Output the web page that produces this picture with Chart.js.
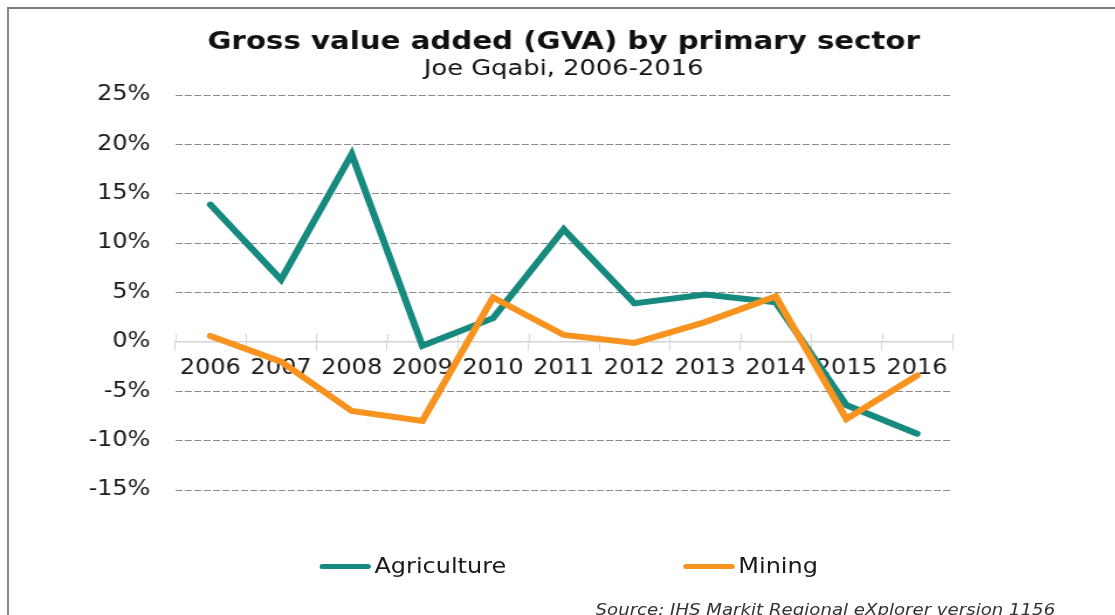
<!DOCTYPE html>
<html>
<head>
<meta charset="utf-8">
<script src="https://cdn.jsdelivr.net/npm/chart.js@4/dist/chart.umd.min.js"></script>
<style>
  html, body { margin: 0; padding: 0; background: #fff; overflow: hidden; }
  body { width: 1115px; height: 615px; position: relative; font-family: "DejaVu Sans", Verdana, sans-serif; }
  .frame { position: absolute; left: 7px; top: 7px; right: -10px; bottom: -10px; border-top: 2px solid #7d7d7d; border-left: 2px solid #8a8a8a; }
  /* the whole panel is drawn a little wide, like the exported figure */
  .stage { position: absolute; left: 0; top: 0; width: 953px; height: 615px; transform: scaleX(1.17); transform-origin: 0 0; }
  .stage canvas { position: absolute; left: 0; top: 0; }
  .legend-item { position: absolute; top: 553px; display: flex; align-items: center; font-size: 20.5px; color: #1a1a1a; line-height: 26px; }
  .legend-item .swatch { width: 44px; height: 5px; border-radius: 3px; margin-right: 3px; }
  .source { position: absolute; left: 509px; top: 603px; font-size: 15.5px; font-style: italic; color: #333; white-space: nowrap; line-height: 1; }
</style>
</head>
<body>
<div class="frame"></div>
<div class="stage">
  <canvas id="gva-chart" width="953" height="615"></canvas>
  <div id="legend"></div>
  <div class="source">Source: IHS Markit Regional eXplorer version 1156</div>
</div>
<script>
// ---- Data ----
const years = ['2006', '2007', '2008', '2009', '2010', '2011', '2012', '2013', '2014', '2015', '2016'];
const agriculture = [13.9, 6.3, 19.0, -0.4, 2.4, 11.4, 3.9, 4.8, 4.0, -6.4, -9.3];
const mining = [0.6, -2.0, -7.0, -8.0, 4.5, 0.7, -0.1, 2.0, 4.6, -7.8, -3.4];
const seriesNames = ['Agriculture', 'Mining'];
const seriesColors = ['#168a7e', '#f7931e'];
const yMin = -15, yMax = 25, yStep = 5;

const AXIS_GREY = '#d4d4d4';
const TEXT = '#1a1a1a';

// tick marks on the zero axis also poke up into the plot
const upTicks = {
  id: 'upTicks',
  beforeDatasetsDraw(chart) {
    const x = chart.scales.x, y = chart.scales.y;
    const y0 = y.getPixelForValue(0);
    const half = (x.getPixelForValue(1) - x.getPixelForValue(0)) / 2;
    const ctx = chart.ctx;
    ctx.save();
    ctx.strokeStyle = AXIS_GREY;
    ctx.lineWidth = 1;
    for (let i = 0; i <= years.length; i++) {
      const px = Math.round(x.getPixelForValue(i) - half) + 0.5;
      ctx.beginPath();
      ctx.moveTo(px, y0 - 8);
      ctx.lineTo(px, y0);
      ctx.stroke();
    }
    ctx.restore();
  }
};

const ctx = document.getElementById('gva-chart').getContext('2d');
const chart = new Chart(ctx, {
  type: 'line',
  data: {
    labels: years,
    datasets: [
      {
        label: seriesNames[0],
        data: agriculture,
        borderColor: seriesColors[0],
        backgroundColor: seriesColors[0],
        order: 1
      },
      {
        label: seriesNames[1],
        data: mining,
        borderColor: seriesColors[1],
        backgroundColor: seriesColors[1],
        order: 0
      }
    ]
  },
  options: {
    responsive: false,
    animation: false,
    layout: { padding: { top: 0, left: 30, right: 139, bottom: 125 } },
    elements: {
      line: { borderWidth: 6, tension: 0, borderCapStyle: 'round', borderJoinStyle: 'miter', fill: false },
      point: { radius: 0, hoverRadius: 0 }
    },
    plugins: {
      legend: { display: false },
      tooltip: { enabled: false },
      title: {
        display: true,
        fullSize: false,
        text: 'Gross value added (GVA) by primary sector',
        color: '#111',
        font: { family: 'DejaVu Sans', size: 25, weight: 'bold', lineHeight: 1 },
        padding: { top: 30, bottom: 0 }
      },
      subtitle: {
        display: true,
        fullSize: false,
        text: 'Joe Gqabi, 2006-2016',
        color: '#111',
        font: { family: 'DejaVu Sans', size: 22, lineHeight: 1.2 },
        padding: { top: 1, bottom: 12.6 }
      }
    },
    scales: {
      x: {
        type: 'category',
        position: { y: 0 },
        offset: true,
        afterFit: (s) => { s.height = 0; },
        border: { display: true, color: AXIS_GREY, width: 1.5 },
        grid: { offset: true, drawOnChartArea: false, drawTicks: true, tickLength: 8, color: AXIS_GREY },
        ticks: { color: TEXT, padding: 6, maxRotation: 0, autoSkip: false, font: { family: 'DejaVu Sans', size: 20.5 } }
      },
      y: {
        min: yMin,
        max: yMax,
        afterFit: (s) => { s.width = 119.6; },
        border: { display: false, dash: [6, 2] },
        grid: {
          drawTicks: false,
          lineWidth: 1,
          color: (c) => (c.tick && c.tick.value === 0 ? 'rgba(0,0,0,0)' : '#8a8a8a')
        },
        ticks: {
          stepSize: yStep,
          padding: 21,
          color: TEXT,
          font: { family: 'DejaVu Sans', size: 20.5 },
          callback: (v) => v + '%'
        }
      }
    }
  },
  plugins: [upTicks]
});

// ---- Legend (wide spacing, built from the datasets) ----
const legendEl = document.getElementById('legend');
const legendLeft = [273, 584];
chart.data.datasets.forEach((ds, i) => {
  const item = document.createElement('div');
  item.className = 'legend-item';
  item.style.left = legendLeft[i] + 'px';
  item.innerHTML = `<span class="swatch" style="background:${ds.borderColor}"></span><span>${ds.label}</span>`;
  legendEl.appendChild(item);
});
</script>
</body>
</html>
